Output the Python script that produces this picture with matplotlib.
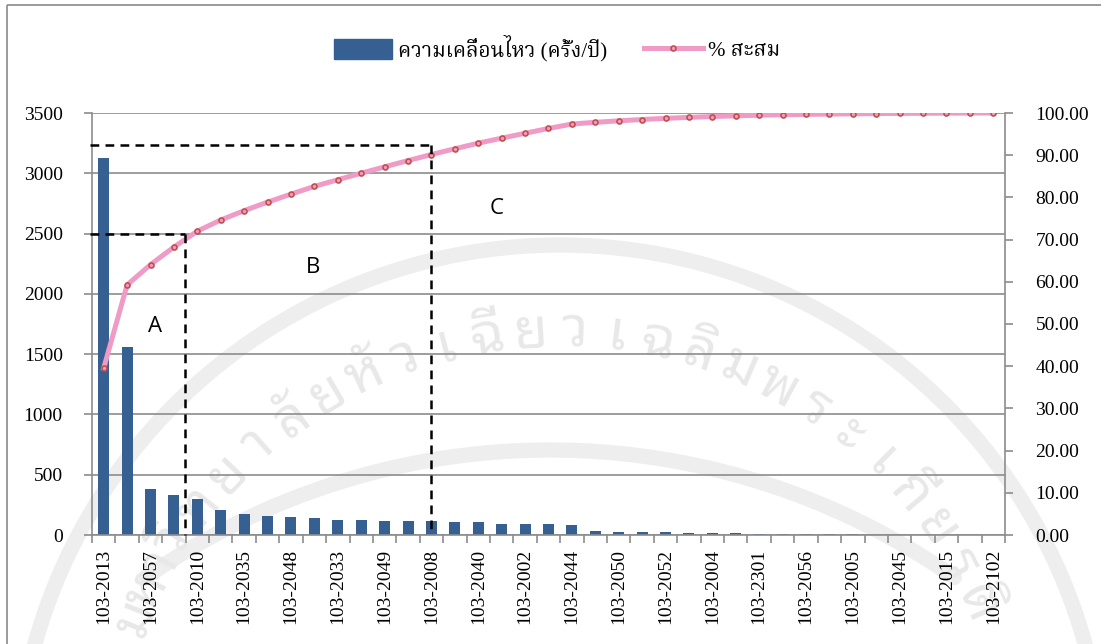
import numpy as np
import matplotlib
matplotlib.use("Agg")
import matplotlib.pyplot as plt
from matplotlib.patches import Patch
from matplotlib.lines import Line2D

# Movement count per item code (times / year), sorted descending
codes = [
    "103-2013", "103-2001", "103-2057", "103-2003", "103-2010", "103-2006",
    "103-2035", "103-2007", "103-2048", "103-2009", "103-2033", "103-2011",
    "103-2049", "103-2012", "103-2008", "103-2014", "103-2040", "103-2016",
    "103-2002", "103-2017", "103-2044", "103-2018", "103-2050", "103-2019",
    "103-2052", "103-2020", "103-2004", "103-2021", "103-2301", "103-2022",
    "103-2056", "103-2023", "103-2005", "103-2024", "103-2045", "103-2025",
    "103-2015", "103-2026", "103-2102",
]
movements = [
    3130, 1562, 381, 329, 298, 210, 175, 160, 150, 145,
    125, 122, 120, 118, 113, 108, 105, 94, 92, 90,
    83, 32, 28, 25, 22, 18, 16, 13, 11, 9,
    7, 6, 5, 4, 3, 3, 2, 2, 1,
]
cumulative_pct = np.cumsum(movements) / np.sum(movements) * 100

# ABC class boundaries (cut index, cumulative %) and zone labels
class_cuts = [(3.47, 71.3), (13.97, 92.3)]
zone_labels = [("A", 2.18, 49.3), ("B", 8.93, 63.5), ("C", 16.8, 77.3)]

legend_bar = "ความเคลื่อนไหว (ครั้ง/ปี)"
legend_line = "% สะสม"
watermark = ["ม", "หา", "วิ", "ท", "ย", "า", "ลั", "ย", "หั", "ว", "เ", "ฉี",
             "ย", "ว", "เ", "ฉ", "ลิ", "ม", "พ", "ร", "ะ", "เ", "กี", "ย", "ร", "ติ"]

W, H = 1101, 644
BAR = "#366092"
PINK = "#F09BC6"
MARK = "#C0504D"
GRID = "#8C8C8C"
SERIF = ["Liberation Serif", "Noto Serif Thai", "DejaVu Serif"]

fig = plt.figure(figsize=(W / 100, H / 100), dpi=100, facecolor="white")

# Background layer: frame and faint seal watermark (pixel coordinates)
bg = fig.add_axes([0, 0, 1, 1], zorder=-1)
bg.set_xlim(0, W)
bg.set_ylim(H, 0)
bg.axis("off")
bg.plot([7, W], [5, 5], color="#8A8A8A", lw=1.2, solid_capstyle="butt")
bg.plot([7, 7], [5, H], color="#8A8A8A", lw=1.2, solid_capstyle="butt")

wm = "#EEEEEE"
t = np.radians(np.linspace(10, 170, 300))
bg.plot(560 + 545 * np.cos(t), 790 - 545 * np.sin(t), color=wm, lw=11, solid_capstyle="round")
t = np.radians(np.linspace(55, 125, 200))
bg.plot(550 + 705 * np.cos(t), 1155 - 705 * np.sin(t), color=wm, lw=11, solid_capstyle="round")
angles = np.linspace(158, 24, len(watermark))
for ch, a in zip(watermark, angles):
    r = np.radians(a)
    bg.text(560 + 458 * np.cos(r), 790 - 458 * np.sin(r), ch, rotation=a - 90,
            rotation_mode="anchor", ha="center", va="center", fontsize=40,
            color="#E8E8E8", family=["Noto Sans Thai Looped", "Noto Sans Thai"])

# Main chart area
ax = fig.add_axes([92 / W, 1 - 535 / H, (1005 - 92) / W, (535 - 113) / H])
ax.patch.set_alpha(0)
x = np.arange(len(codes))
ax.bar(x, movements, width=0.47, color=BAR, zorder=2)
ax.set_xlim(-0.5, len(codes) - 0.5)
ax.set_ylim(0, 3500)
ax.set_yticks(np.arange(0, 3501, 500))
ax.yaxis.grid(True, color=GRID, lw=1.2)
ax.set_axisbelow(True)

ax.set_xticks(np.arange(-0.5, len(codes)), labels=[])
ax.set_xticks(x[::2], labels=codes[::2], minor=True)
ax.tick_params(axis="x", which="major", direction="out", length=6, width=1.2, color=GRID)
ax.tick_params(axis="x", which="minor", length=0, pad=10, rotation=90, labelsize=14)
ax.tick_params(axis="y", direction="out", length=6, width=1.2, color=GRID, pad=15, labelsize=14)
for lab in ax.get_xticklabels(minor=True) + ax.get_yticklabels():
    lab.set_family(SERIF)

for side in ("top", "right"):
    ax.spines[side].set_visible(False)
for side in ("left", "bottom"):
    ax.spines[side].set_color(GRID)
    ax.spines[side].set_linewidth(1.2)

# Cumulative percentage on the secondary axis
ax2 = ax.twinx()
ax2.plot(x, cumulative_pct, color=PINK, lw=3.6, marker="o", markersize=3.6,
         markerfacecolor=PINK, markeredgecolor=MARK, markeredgewidth=1.2, zorder=3)
ax2.set_ylim(0, 100)
ax2.set_yticks(np.arange(0, 101, 10))
ax2.set_yticklabels([f"{v:.2f}" for v in np.arange(0, 101, 10)], family=SERIF)
ax2.tick_params(axis="y", direction="out", length=6, width=1.2, color=GRID, pad=16, labelsize=14)
for side in ("top", "left", "bottom"):
    ax2.spines[side].set_visible(False)
ax2.spines["right"].set_color(GRID)
ax2.spines["right"].set_linewidth(1.2)

# ABC class boundaries
dash = dict(color="black", lw=1.8, linestyle=(0, (3.5, 2.5)), clip_on=False, zorder=4)
for cx, cy in class_cuts:
    ax2.plot([-0.6, cx], [cy, cy], **dash)
    ax2.plot([cx, cx], [cy, 0], **dash)
for lab, lx, ly in zone_labels:
    ax2.text(lx, ly, lab, ha="center", va="center", fontsize=16, family="Open Sans")

# Legend
handles = [
    Patch(facecolor=BAR, edgecolor=BAR),
    Line2D([], [], color=PINK, lw=3.6, marker="o", markersize=3.6,
           markerfacecolor=PINK, markeredgecolor=MARK, markeredgewidth=1.2),
]
fig.legend(handles, [legend_bar, legend_line], loc="center", bbox_to_anchor=(557 / W, 1 - 48 / H),
           ncol=2, frameon=False, prop={"family": SERIF, "size": 15},
           handlelength=2.8, handleheight=1.1, handletextpad=0.25, columnspacing=1.8)

fig.savefig("out.png", dpi=100)
